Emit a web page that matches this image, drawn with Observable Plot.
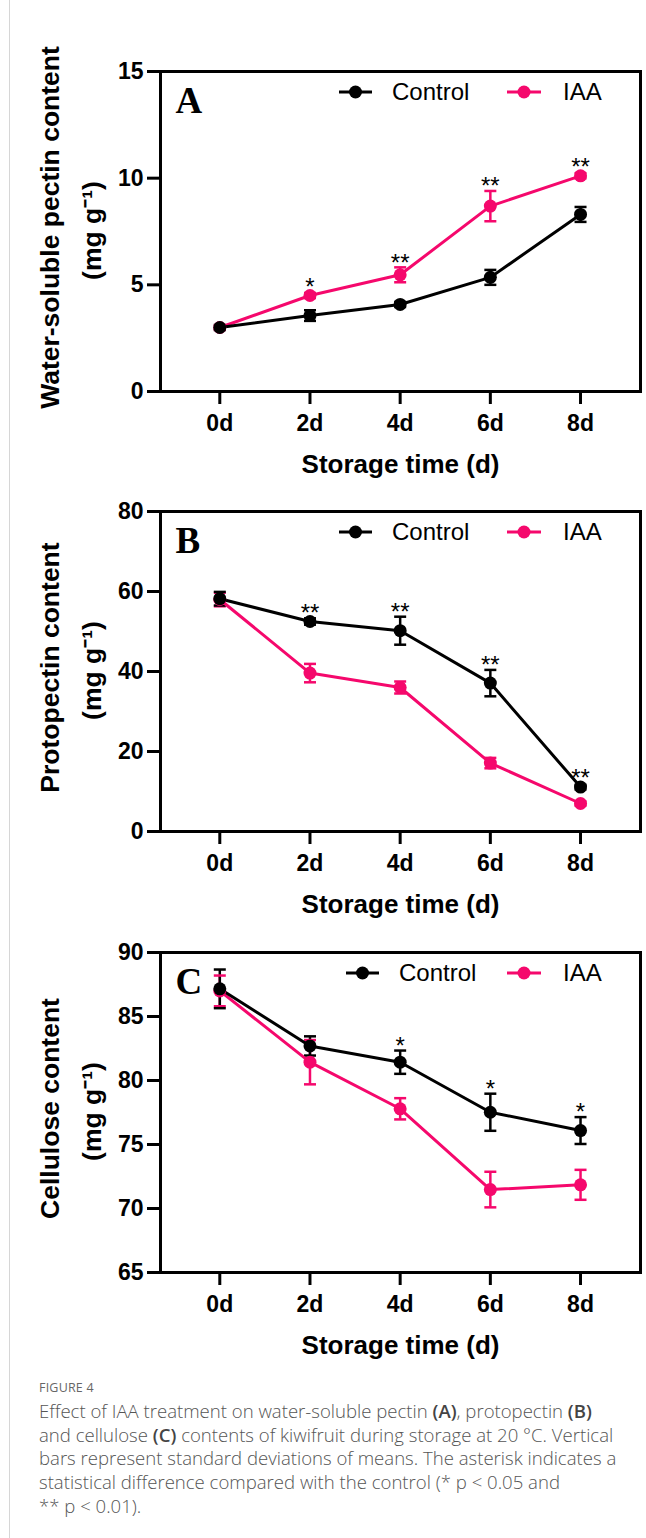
<!DOCTYPE html>
<html>
<head>
<meta charset="utf-8">
<script src="https://cdn.jsdelivr.net/npm/d3@7"></script>
<script src="https://cdn.jsdelivr.net/npm/@observablehq/plot@0.6"></script>
<style>
  body { margin: 0; background: #fff; }
  #page { position: relative; width: 646px; height: 1538px; overflow: hidden; background: #fff; }
  #border { position: absolute; left: 9px; top: 0; width: 1px; height: 1538px; background: #d6d6d6; z-index: 5; }
  .panel { position: absolute; left: 0; }
  #figlabel { position: absolute; left: 39px; top: 1380px; font-family: "Open Sans", "Noto Sans", sans-serif; font-size: 12.5px; line-height: 16px; color: #666; letter-spacing: 0.2px; }
  #caption { position: absolute; left: 39px; top: 1399px; font-family: "Open Sans", "Noto Sans", sans-serif; font-weight: 300; font-size: 16px; line-height: 23.7px; color: #555; white-space: nowrap; }
  #caption b { font-weight: 600; color: #444; }
</style>
</head>
<body>
<div id="page">
  <div id="pA" class="panel" style="top:30px"></div>
  <div id="pB" class="panel" style="top:490px"></div>
  <div id="pC" class="panel" style="top:930px"></div>
  <div id="border"></div>
  <div id="figlabel">FIGURE 4</div>
  <div id="caption"><span id="line1">Effect of IAA treatment on water-soluble pectin <b>(A)</b>, protopectin <b>(B)</b></span><br>and cellulose <b>(C)</b> contents of kiwifruit during storage at 20 °C. Vertical<br>bars represent standard deviations of means. The asterisk indicates a<br>statistical difference compared with the control (* p &lt; 0.05 and<br>** p &lt; 0.01).</div>
</div>
<script>
// ---------- data ----------
const days = [0, 2, 4, 6, 8];
const dayLabels = ["0d", "2d", "4d", "6d", "8d"];
const seriesNames = ["Control", "IAA"];
const seriesColors = ["#000000", "#f5086c"];
const xTitle = "Storage time (d)";
const unitLabel = "(mg g\u207B\u00B9)";

// Panel A: water-soluble pectin
const wspControl   = [3.0, 3.56, 4.08, 5.35, 8.30];
const wspControlSD = [0.12, 0.25, 0.12, 0.35, 0.35];
const wspIAA       = [3.0, 4.50, 5.47, 8.69, 10.11];
const wspIAASD     = [0.10, 0.12, 0.35, 0.71, 0.12];
const wspStars     = ["", "*", "**", "**", "**"];
const wspTicks     = [0, 5, 10, 15];

// Panel B: protopectin
const proControl   = [58.2, 52.5, 50.2, 37.1, 11.1];
const proControlSD = [1.7, 0.8, 3.5, 3.3, 0.6];
const proIAA       = [58.0, 39.6, 36.0, 17.1, 7.0];
const proIAASD     = [1.7, 2.3, 1.5, 1.3, 0.5];
const proStars     = ["", "**", "**", "**", "**"];
const proTicks     = [0, 20, 40, 60, 80];

// Panel C: cellulose
const celControl   = [87.16, 82.70, 81.43, 77.52, 76.09];
const celControlSD = [1.51, 0.75, 0.91, 1.45, 1.05];
const celIAA       = [87.0, 81.43, 77.79, 71.48, 71.85];
const celIAASD     = [1.20, 1.73, 0.83, 1.39, 1.17];
const celStars     = ["", "", "*", "*", "*"];
const celTicks     = [65, 70, 75, 80, 85, 90];

// ---------- drawing ----------
const capSymbol = { draw(ctx) { ctx.moveTo(-6, 0); ctx.lineTo(6, 0); } };
const dotR = 6.5;

function makePanel(cfg) {
  const rows = [];
  // IAA first so Control is drawn on top
  [1, 0].forEach(si => days.forEach((d, i) => rows.push({
    series: seriesNames[si], day: d,
    mean: si ? cfg.iaa[i] : cfg.ctrl[i],
    sd: si ? cfg.iaaSD[i] : cfg.ctrlSD[i]
  })));
  const innerH = cfg.height - cfg.marginTop - cfg.marginBottom;
  const ppu = innerH / (cfg.ticks[cfg.ticks.length - 1] - cfg.ticks[0]); // pixels per unit
  // asterisk sits ~10px above the error cap, or ~8px above the marker when the bar is hidden
  const clear = (m, s) => Math.max(m + s + 10.5 / ppu, m + (dotR + 8) / ppu);
  const starRows = days.map((d, i) => ({
    day: d, label: cfg.stars[i],
    top: Math.max(clear(cfg.ctrl[i], cfg.ctrlSD[i]), clear(cfg.iaa[i], cfg.iaaSD[i]))
  })).filter(r => r.label);

  const sans = "'Liberation Sans', Arial, Helvetica, sans-serif";
  const svg = Plot.plot({
    width: 646, height: cfg.height,
    marginLeft: 160, marginRight: 6, marginTop: cfg.marginTop, marginBottom: cfg.marginBottom,
    style: { fontFamily: sans, fontSize: "23px", color: "#000", background: "transparent", overflow: "visible" },
    x: { type: "linear", domain: [-1.315, 9.33], axis: null },
    y: { domain: [cfg.ticks[0], cfg.ticks[cfg.ticks.length - 1]], axis: null },
    color: { domain: seriesNames, range: seriesColors },
    marks: [
      Plot.axisY({ ticks: cfg.ticks, tickSize: 13, tickPadding: 4, strokeWidth: 3, fontSize: 23, fontWeight: "bold", label: null }),
      Plot.axisX({ ticks: days, tickFormat: d => dayLabels[days.indexOf(d)], tickSize: 13, tickPadding: 10, strokeWidth: 3, fontSize: 23, fontWeight: "bold", label: null }),
      Plot.frame({ strokeWidth: 3, stroke: "#000" }),
      Plot.ruleX(rows, { x: "day", y1: d => d.mean - d.sd, y2: d => d.mean + d.sd, stroke: "series", strokeWidth: 2.5 }),
      Plot.dot(rows, { x: "day", y: d => d.mean + d.sd, symbol: capSymbol, stroke: "series", fill: "none", strokeWidth: 2.5 }),
      Plot.dot(rows, { x: "day", y: d => d.mean - d.sd, symbol: capSymbol, stroke: "series", fill: "none", strokeWidth: 2.5 }),
      Plot.line(rows, { x: "day", y: "mean", z: "series", stroke: "series", strokeWidth: 3 }),
      Plot.dot(rows, { x: "day", y: "mean", fill: "series", r: dotR }),
      Plot.text(starRows, { x: "day", y: "top", text: "label", dy: 6, fontSize: 24, lineAnchor: "middle", fill: "#000" }),
      Plot.text([cfg.letter], { text: d => d, frameAnchor: "top-left", dx: 15, dy: 29.5, textAnchor: "start", lineAnchor: "middle",
        fontFamily: "'Liberation Serif', 'Times New Roman', serif", fontSize: 37, fontWeight: "bold" }),
      Plot.text([cfg.title], { text: d => d, frameAnchor: "left", rotate: -90, dx: -110, dy: -4, textAnchor: "middle", lineAnchor: "middle", fontSize: 26.5, fontWeight: "bold" }),
      Plot.text([unitLabel], { text: d => d, frameAnchor: "left", rotate: -90, dx: -68, dy: -1, textAnchor: "middle", lineAnchor: "middle", fontSize: 26.5, fontWeight: "bold" }),
      Plot.text([xTitle], { text: d => d, frameAnchor: "bottom", dy: 73, textAnchor: "middle", lineAnchor: "middle", fontSize: 26, fontWeight: "bold" })
    ]
  });

  // legend inside the frame, top right
  const g = d3.select(svg).append("g").attr("text-anchor", "start");
  const ly = cfg.marginTop + 21;
  const items = [
    { name: seriesNames[0], color: seriesColors[0], x0: 339 + cfg.shift, x1: 372 + cfg.shift, tx: 392 + cfg.shift },
    { name: seriesNames[1], color: seriesColors[1], x0: 507, x1: 541, tx: 563 }
  ];
  items.forEach(it => {
    g.append("line").attr("x1", it.x0).attr("x2", it.x1).attr("y1", ly).attr("y2", ly)
      .attr("stroke", it.color).attr("stroke-width", 3);
    g.append("circle").attr("cx", (it.x0 + it.x1) / 2).attr("cy", ly).attr("r", dotR).attr("fill", it.color);
    g.append("text").attr("x", it.tx).attr("y", ly).attr("dy", "0.35em").attr("text-anchor", "start")
      .attr("font-family", sans).attr("font-size", 24).attr("fill", "#000").text(it.name);
  });
  document.getElementById(cfg.id).appendChild(svg);
}

makePanel({ id: "pA", ctrl: wspControl, ctrlSD: wspControlSD, iaa: wspIAA, iaaSD: wspIAASD, stars: wspStars, ticks: wspTicks,
  title: "Water-soluble pectin content", letter: "A", height: 460, marginTop: 41, marginBottom: 99, shift: 0 });
makePanel({ id: "pB", ctrl: proControl, ctrlSD: proControlSD, iaa: proIAA, iaaSD: proIAASD, stars: proStars, ticks: proTicks,
  title: "Protopectin content", letter: "B", height: 440, marginTop: 21, marginBottom: 99, shift: 0 });
makePanel({ id: "pC", ctrl: celControl, ctrlSD: celControlSD, iaa: celIAA, iaaSD: celIAASD, stars: celStars, ticks: celTicks,
  title: "Cellulose content", letter: "C", height: 430, marginTop: 22, marginBottom: 88, shift: 7 });

// fit caption size so first line spans the measured width
const l1 = document.getElementById("line1");
const cap = document.getElementById("caption");
const w = l1.getBoundingClientRect().width;
if (w > 0) cap.style.fontSize = (16 * 553 / w).toFixed(2) + "px";
</script>
</body>
</html>
